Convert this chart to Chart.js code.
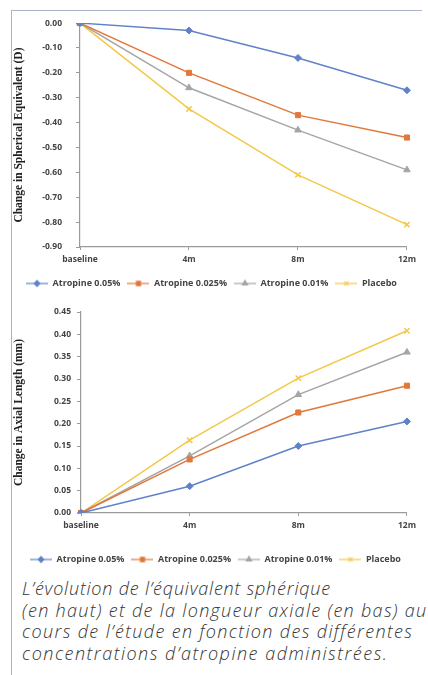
<!DOCTYPE html>
<html lang="fr">
<head>
<meta charset="utf-8">
<script src="https://cdn.jsdelivr.net/npm/chart.js@4"></script>
<style>
  body { margin: 0; background: #fff; width: 428px; height: 675px; overflow: hidden; position: relative; }
  .frame { position: absolute; left: 11px; top: 10px; width: 410px; height: 670px;
           border-top: 1.5px solid #aab3c8; border-left: 1.5px solid #aab3c8; }
  .box { position: absolute; left: 12px; width: 408px; }
  #top { top: 4px; height: 294px; }
  #bottom { top: 300px; height: 274px; }
  .caption { position: absolute; left: 22px; top: 578px; font-family: "Open Sans", sans-serif;
             font-style: italic; font-weight: 300; font-size: 18px; line-height: 21.7px;
             color: #333; white-space: nowrap; }
  .caption span { display: block; }
</style>
</head>
<body>
<div class="frame"></div>
<div class="box" id="top"><canvas id="seChart"></canvas></div>
<div class="box" id="bottom"><canvas id="alChart"></canvas></div>
<div class="caption">
  <span style="letter-spacing: 0.8px">L’évolution de l’équivalent sphérique</span>
  <span style="letter-spacing: 1.3px">(en haut) et de la longueur axiale (en bas) au</span>
  <span style="letter-spacing: 1.35px">cours de l’étude en fonction des différentes</span>
  <span style="letter-spacing: 1.5px">concentrations d’atropine administrées.</span>
</div>
<script>
const visits = ['baseline', '4m', '8m', '12m'];
const groups = ['Atropine 0.05%', 'Atropine 0.025%', 'Atropine 0.01%', 'Placebo'];

// changement de l'équivalent sphérique (D)
const se005 = [0, -0.03, -0.14, -0.27];
const se0025 = [0, -0.20, -0.37, -0.46];
const se001 = [0, -0.26, -0.43, -0.59];
const sePlacebo = [0, -0.345, -0.61, -0.81];

// changement de la longueur axiale (mm)
const al005 = [0, 0.06, 0.15, 0.205];
const al0025 = [0, 0.12, 0.225, 0.285];
const al001 = [0, 0.128, 0.265, 0.36];
const alPlacebo = [0, 0.163, 0.302, 0.408];

const colors = ['#5f82c9', '#e2773a', '#a5a5a5', '#f3c849'];
const markers = ['rectRot', 'rect', 'triangle', 'crossRot'];
const markerSize = [3.5, 3.6, 3.8, 3.8];

const tickFont = { family: 'Open Sans', size: 8.5, weight: 'bold' };
const legendFont = { family: 'Open Sans', size: 9, weight: 'bold' };
const titleFont = { family: 'Liberation Serif', size: 11.5, weight: 'bold' };

function makeDatasets(series) {
  return series.map((values, i) => ({
    label: groups[i],
    data: values,
    borderColor: colors[i],
    backgroundColor: colors[i],
    borderWidth: 1.5,
    pointStyle: markers[i],
    pointRadius: markerSize[i],
    pointBorderWidth: i == 3 ? 1.5 : 1,
    pointBackgroundColor: colors[i],
    pointBorderColor: colors[i],
    tension: 0,
  }));
}

// petite image ligne + marqueur pour la légende
function legendIcon(i) {
  const c = document.createElement('canvas');
  c.width = 22;
  c.height = 10;
  const ctx = c.getContext('2d');
  ctx.strokeStyle = colors[i];
  ctx.fillStyle = colors[i];
  ctx.lineWidth = 1.2;
  ctx.beginPath();
  ctx.moveTo(0, 5);
  ctx.lineTo(22, 5);
  ctx.stroke();
  Chart.helpers.drawPoint(ctx, {
    pointStyle: markers[i], radius: markerSize[i] * 0.8, rotation: 0, borderWidth: 1
  }, 11, 5);
  return c;
}

function renderChart(id, series, yMin, yMax, step, title, opts) {
  const ctx = document.getElementById(id).getContext('2d');
  new Chart(ctx, {
    type: 'line',
    data: { labels: visits, datasets: makeDatasets(series) },
    options: {
      responsive: true,
      maintainAspectRatio: false,
      animation: false,
      layout: { padding: opts.padding },
      plugins: {
        tooltip: { enabled: false },
        legend: {
          position: 'bottom',
          labels: {
            usePointStyle: true,
            pointStyleWidth: 22,
            padding: 7,
            color: '#444',
            font: legendFont,
            generateLabels: chart => chart.data.datasets.map((d, i) => ({
              text: d.label,
              pointStyle: legendIcon(i),
              fillStyle: 'transparent',
              strokeStyle: 'transparent',
              lineWidth: 0,
              fontColor: '#444',
              datasetIndex: i,
            })),
          },
        },
      },
      scales: {
        x: {
          offset: false,
          grid: { display: true, drawOnChartArea: false, drawTicks: true, tickLength: 3, color: '#9a9a9a' },
          border: { display: true, color: '#9a9a9a', width: 1.2 },
          ticks: { color: '#444', font: tickFont, padding: 4, maxRotation: 0 },
          afterFit: s => { s.height = opts.xHeight; },
        },
        y: {
          min: yMin,
          max: yMax,
          grid: { display: true, drawOnChartArea: false, drawTicks: true, tickLength: 4, color: '#9a9a9a' },
          border: { display: true, color: '#9a9a9a', width: 1.2 },
          ticks: {
            stepSize: step,
            color: '#444',
            font: tickFont,
            padding: opts.yPad,
            callback: v => Number(v).toFixed(2),
          },
          title: { display: true, text: title, color: '#222', font: titleFont, padding: 0 },
          afterFit: s => { s.width = opts.yWidth; },
        },
      },
    },
  });
}

renderChart('seChart', [se005, se0025, se001, sePlacebo], -0.9, 0, 0.1,
  'Change in Spherical Equivalent (D)',
  { padding: { top: 3, right: 9, bottom: 0, left: 0 }, xHeight: 25, yWidth: 68, yPad: 14 });

renderChart('alChart', [al005, al0025, al001, alPlacebo], 0, 0.45, 0.05,
  'Change in Axial Length (mm)',
  { padding: { top: 12, right: 1, bottom: 0, left: 0 }, xHeight: 35, yWidth: 69, yPad: 6 });
</script>
</body>
</html>
